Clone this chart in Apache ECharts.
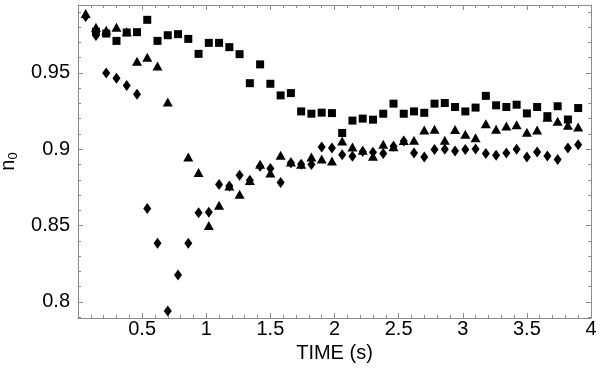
<!DOCTYPE html>
<html>
<head>
<meta charset="utf-8">
<script src="https://cdn.jsdelivr.net/npm/echarts@6.0.0/dist/echarts.min.js"></script>
<style>
  html, body { margin: 0; padding: 0; background: #fff; }
  #main { width: 600px; height: 371px; }
</style>
</head>
<body>
<div id="main"></div>
<script>
// sample times (s), shared by the three series
var times = [0.06, 0.14, 0.22, 0.30, 0.38, 0.46, 0.54, 0.62, 0.70, 0.78,
  0.86, 0.94, 1.02, 1.10, 1.18, 1.26, 1.34, 1.42, 1.50, 1.58,
  1.66, 1.74, 1.82, 1.90, 1.98, 2.06, 2.14, 2.22, 2.30, 2.38,
  2.46, 2.54, 2.62, 2.70, 2.78, 2.86, 2.94, 3.02, 3.10, 3.18,
  3.26, 3.34, 3.42, 3.50, 3.58, 3.66, 3.74, 3.82, 3.90];

var squares = [null, 0.977, 0.9758, 0.971, 0.9765, 0.9767, 0.9848, 0.971, 0.9747, 0.9754,
  0.9723, 0.9625, 0.9697, 0.9697, 0.9669, 0.9623, 0.9433, 0.9556, 0.9429, 0.9353,
  0.9368, 0.9248, 0.9233, 0.924, 0.9237, 0.9107, 0.9188, 0.9201, 0.9194, 0.9233,
  0.9299, 0.9233, 0.9248, 0.9239, 0.9299, 0.9303, 0.9277, 0.9248, 0.9273, 0.935,
  0.9288, 0.9277, 0.9292, 0.9235, 0.9277, 0.9217, 0.9282, 0.9195, 0.927];

var triangles = [0.989, 0.980, 0.978, 0.980, 0.977, 0.9577, 0.9603, 0.9545, 0.931, null,
  0.895, 0.8848, 0.8501, 0.8634, 0.876, 0.8706, 0.8795, 0.8902, 0.8845, 0.8961,
  0.8917, 0.8902, 0.895, 0.8937, 0.8924, 0.9054, 0.9015, 0.8993, 0.8954, 0.9033,
  0.9017, 0.9057, 0.9059, 0.9126, 0.9131, 0.9059, 0.9129, 0.9098, 0.9076, 0.9168,
  0.9131, 0.9153, 0.9161, 0.9112, 0.9127, 0.921, 0.9184, 0.9157, 0.9146];

var diamonds = [0.987, 0.9745, 0.950, 0.9466, 0.9418, 0.9361, 0.8612, 0.8384, 0.7941, 0.8176,
  0.8384, 0.8584, 0.8588, 0.8769, 0.876, 0.883, 0.8797, 0.8889, 0.8874, 0.8782,
  0.8912, 0.8902, 0.89, 0.9015, 0.9008, 0.8965, 0.8954, 0.8985, 0.898, 0.8972,
  0.902, 0.9054, 0.8976, 0.895, 0.8998, 0.9, 0.8989, 0.8998, 0.9002, 0.8972,
  0.8961, 0.8976, 0.9, 0.895, 0.8982, 0.8956, 0.8933, 0.9008, 0.903];

// ticks
var xMajor = [0.5, 1, 1.5, 2, 2.5, 3, 3.5, 4];
var xMinor = [0.1, 0.2, 0.3, 0.4, 0.6, 0.7, 0.8, 0.9, 1.1, 1.2, 1.3, 1.4, 1.6, 1.7, 1.8, 1.9,
  2.1, 2.2, 2.3, 2.4, 2.6, 2.7, 2.8, 2.9, 3.1, 3.2, 3.3, 3.4, 3.6, 3.7, 3.8, 3.9];
var yMajor = [0.8, 0.85, 0.9, 0.95];
var yMinor = [0.79, 0.81, 0.82, 0.83, 0.84, 0.86, 0.87, 0.88, 0.89, 0.91, 0.92, 0.93, 0.94,
  0.96, 0.97, 0.98, 0.99];

var X_MIN = 0, X_MAX = 4, Y_MIN = 0.7895, Y_MAX = 0.9945;
var frameColor = '#8c8c8c';
var font = 'Liberation Sans';

function pairs(ys) {
  var out = [];
  for (var i = 0; i < times.length; i++) {
    if (ys[i] != null) out.push([times[i], ys[i]]);
  }
  return out;
}

function fmt(v) {
  return String(parseFloat(v.toFixed(2)));
}

function tickAxis(pos, min, max, ticks, len, withLine) {
  return {
    type: 'value', position: pos, min: min, max: max,
    axisLine: { show: withLine, onZero: false, lineStyle: { color: frameColor, width: 1 } },
    axisTick: { show: true, inside: true, length: len, customValues: ticks,
      lineStyle: { color: frameColor, width: 1 } },
    axisLabel: { show: false },
    splitLine: { show: false }
  };
}

var chart = echarts.init(document.getElementById('main'));

var xMain = tickAxis('bottom', X_MIN, X_MAX, xMajor, 5, true);
xMain.axisLabel = { show: true, customValues: xMajor, formatter: fmt, color: '#000',
  fontSize: 20, fontFamily: font, margin: 1 };
xMain.name = 'TIME (s)';
xMain.nameLocation = 'middle';
xMain.nameGap = 24;
xMain.nameTextStyle = { color: '#000', fontSize: 20, fontFamily: font };

var yMain = tickAxis('left', Y_MIN, Y_MAX, yMajor, 5, true);
yMain.axisLabel = { show: true, customValues: yMajor, formatter: fmt, color: '#000',
  fontSize: 20, fontFamily: font, margin: 8 };
yMain.name = 'n{s|0}';
yMain.nameLocation = 'middle';
yMain.nameRotate = 90;
yMain.nameGap = 48;
yMain.nameTextStyle = { color: '#000', fontSize: 20, fontFamily: font,
  rich: { s: { fontSize: 13, verticalAlign: 'bottom', padding: [10, 0, 0, 0],
    fontFamily: font, color: '#000' } } };

function sym(name, type, size, ys) {
  return {
    name: name, type: 'scatter', xAxisIndex: 0, yAxisIndex: 0,
    symbol: type, symbolSize: size, data: pairs(ys),
    itemStyle: { color: '#000', opacity: 1 },
    emphasis: { disabled: true }, silent: true
  };
}

var option = {
  backgroundColor: '#fff',
  animation: false,
  grid: { left: 78, right: 9, top: 5, bottom: 53, containLabel: false, outerBoundsMode: 'none' },
  xAxis: [
    xMain,
    tickAxis('bottom', X_MIN, X_MAX, xMinor, 3, false),
    tickAxis('top', X_MIN, X_MAX, xMajor, 5, true),
    tickAxis('top', X_MIN, X_MAX, xMinor, 3, false)
  ],
  yAxis: [
    yMain,
    tickAxis('left', Y_MIN, Y_MAX, yMinor, 3, false),
    tickAxis('right', Y_MIN, Y_MAX, yMajor, 5, true),
    tickAxis('right', Y_MIN, Y_MAX, yMinor, 3, false)
  ],
  series: [
    sym('squares', 'rect', [8, 8], squares),
    sym('triangles', 'triangle', [10, 9], triangles),
    sym('diamonds', 'diamond', [8, 11], diamonds)
  ]
};

chart.setOption(option);
</script>
</body>
</html>
